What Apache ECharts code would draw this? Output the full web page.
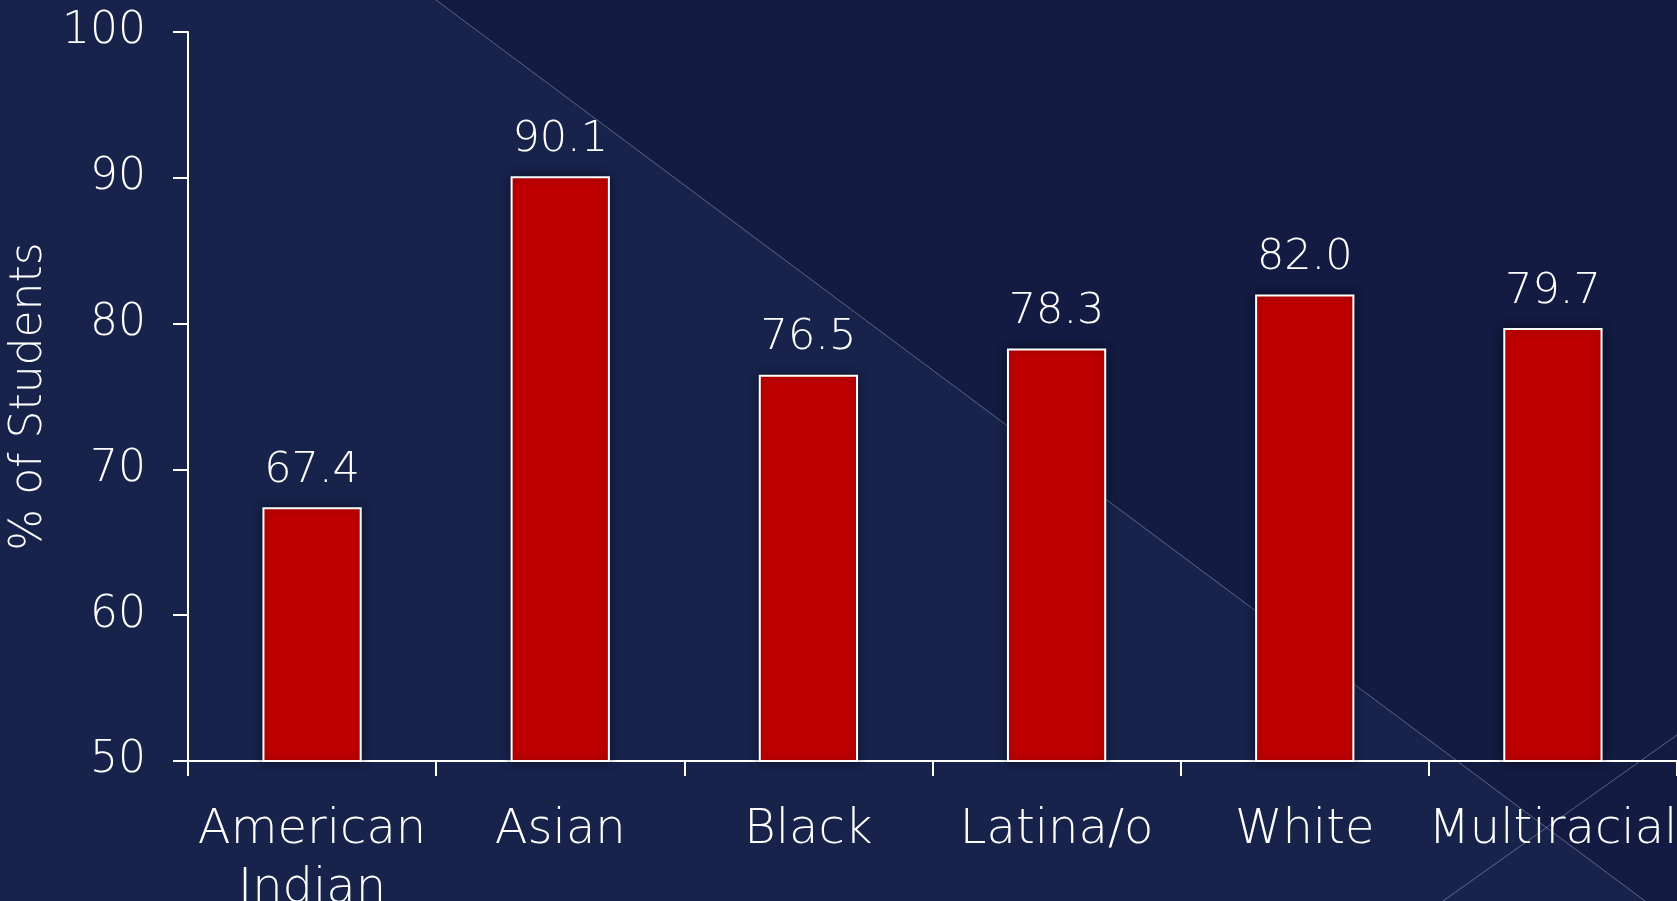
<!DOCTYPE html>
<html>
<head>
<meta charset="utf-8">
<script src="https://cdn.jsdelivr.net/npm/echarts@6/dist/echarts.min.js"></script>
<style>
html,body{margin:0;padding:0;background:#18234c;}
#chart{width:1677px;height:901px;}
</style>
</head>
<body>
<div id="chart"></div>
<script>
const categories = ['American\nIndian', 'Asian', 'Black', 'Latina/o', 'White', 'Multiracial'];
const values = [67.4, 90.1, 76.5, 78.3, 82.0, 79.7];
const yAxisName = '% of Students';
const yMin = 50, yMax = 100, yInterval = 10;

const chart = echarts.init(document.getElementById('chart'));
const FONT = 'DejaVu Sans';
chart.setOption({
  backgroundColor: '#18234c',
  animation: false,
  graphic: [
    { type: 'polygon', z: -10, silent: true,
      shape: { points: [[436, 0], [1677, 0], [1677, 901], [1645, 901]] },
      style: { fill: '#131b42' } },
    { type: 'line', z: -9, silent: true,
      shape: { x1: 436, y1: 0, x2: 1645, y2: 901 },
      style: { stroke: 'rgba(200,205,225,0.4)', lineWidth: 1 } },
    { type: 'line', z: -9, silent: true,
      shape: { x1: 1677, y1: 735, x2: 1443, y2: 901 },
      style: { stroke: 'rgba(200,205,225,0.4)', lineWidth: 1 } }
  ],
  grid: { left: 188, right: 0, top: 32, bottom: 140, containLabel: false, outerBoundsMode: 'none' },
  xAxis: {
    type: 'category',
    data: categories,
    axisLine: { lineStyle: { color: '#ffffff', width: 2 } },
    axisTick: { show: true, length: 15, lineStyle: { color: '#ffffff', width: 2 } },
    axisLabel: { color: '#ffffff', fontFamily: FONT, fontWeight: 200, fontSize: 48, lineHeight: 59, margin: 40, interval: 0 }
  },
  yAxis: {
    type: 'value',
    min: yMin, max: yMax, interval: yInterval,
    name: yAxisName,
    nameLocation: 'middle',
    nameRotate: 90,
    nameGap: 127,
    nameTextStyle: { color: '#ffffff', fontFamily: FONT, fontWeight: 200, fontSize: 44 },
    axisLine: { show: true, lineStyle: { color: '#ffffff', width: 2 } },
    axisTick: { show: true, length: 15, lineStyle: { color: '#ffffff', width: 2 } },
    splitLine: { show: false },
    axisLabel: { color: '#ffffff', fontFamily: FONT, fontWeight: 200, fontSize: 44, margin: 42 }
  },
  series: [{
    type: 'bar',
    data: values,
    barWidth: '40%',
    itemStyle: {
      color: '#c00000',
      borderColor: '#ffffff',
      borderWidth: 2,
      shadowColor: 'rgba(0,0,0,0.45)',
      shadowBlur: 10
    },
    label: {
      show: true,
      position: 'top',
      distance: 15,
      color: '#ffffff',
      fontFamily: FONT,
      fontWeight: 200,
      fontSize: 43,
      formatter: p => p.value.toFixed(1)
    }
  }]
});
</script>
</body>
</html>
